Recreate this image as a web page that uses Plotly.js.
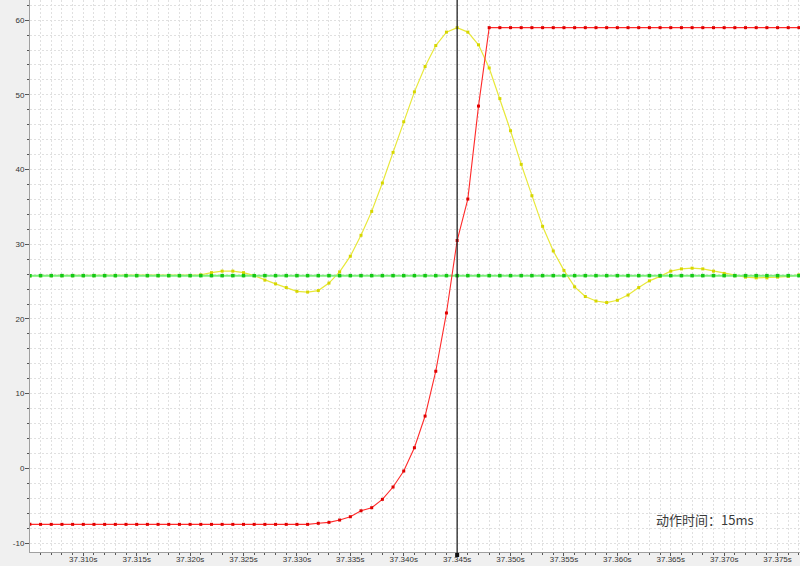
<!DOCTYPE html>
<html>
<head>
<meta charset="utf-8">
<script src="https://cdn.plot.ly/plotly-3.0.1.min.js"></script>
<style>html,body{margin:0;padding:0;background:#f0f0f0;}#chart{width:800px;height:566px;}</style>
</head>
<body>
<div id="chart"></div>
<script>
// sample times (s), 1 ms apart
const times = [37.305,37.306,37.307,37.308,37.309,37.310,37.311,37.312,37.313,37.314,
  37.315,37.316,37.317,37.318,37.319,37.320,37.321,37.322,37.323,37.324,
  37.325,37.326,37.327,37.328,37.329,37.330,37.331,37.332,37.333,37.334,
  37.335,37.336,37.337,37.338,37.339,37.340,37.341,37.342,37.343,37.344,
  37.345,37.346,37.347,37.348,37.349,37.350,37.351,37.352,37.353,37.354,
  37.355,37.356,37.357,37.358,37.359,37.360,37.361,37.362,37.363,37.364,
  37.365,37.366,37.367,37.368,37.369,37.370,37.371,37.372,37.373,37.374,
  37.375,37.376,37.377];

const redValues = [-7.5,-7.5,-7.5,-7.5,-7.5,-7.5,-7.5,-7.5,-7.5,-7.5,
  -7.5,-7.5,-7.5,-7.5,-7.5,-7.5,-7.5,-7.5,-7.5,-7.5,
  -7.5,-7.5,-7.5,-7.5,-7.5,-7.5,-7.5,-7.36,-7.23,-6.92,
  -6.48,-5.68,-5.27,-4.15,-2.5,-0.36,2.76,7.0,13.0,20.8,
  30.5,36.05,48.5,59.0,59.0,59.0,59.0,59.0,59.0,59.0,
  59.0,59.0,59.0,59.0,59.0,59.0,59.0,59.0,59.0,59.0,
  59.0,59.0,59.0,59.0,59.0,59.0,59.0,59.0,59.0,59.0,
  59.0,59.0,59.0];

const yellowValues = [25.8,25.8,25.8,25.8,25.8,25.8,25.8,25.8,25.8,25.8,
  25.8,25.8,25.8,25.8,25.8,25.8,25.9,26.2,26.4,26.4,
  26.2,25.8,25.2,24.7,24.2,23.7,23.6,23.8,24.8,26.3,
  28.4,31.2,34.4,38.2,42.3,46.4,50.4,53.8,56.6,58.4,
  59.0,58.4,56.7,53.6,49.5,45.2,40.7,36.5,32.4,29.1,
  26.5,24.3,23.0,22.4,22.2,22.5,23.2,24.2,25.1,25.7,
  26.4,26.7,26.8,26.7,26.4,26.1,25.8,25.6,25.5,25.5,
  25.6,25.7,25.9];

const greenValues = [25.8,25.8,25.8,25.8,25.8,25.8,25.8,25.8,25.8,25.8,
  25.8,25.8,25.8,25.8,25.8,25.8,25.8,25.8,25.8,25.8,
  25.8,25.8,25.8,25.8,25.8,25.8,25.8,25.8,25.8,25.8,
  25.8,25.8,25.8,25.8,25.8,25.8,25.8,25.8,25.8,25.8,
  25.8,25.8,25.8,25.8,25.8,25.8,25.8,25.8,25.8,25.8,
  25.8,25.8,25.8,25.8,25.8,25.8,25.8,25.8,25.8,25.8,
  25.8,25.8,25.8,25.8,25.8,25.8,25.8,25.8,25.8,25.8,
  25.8,25.8,25.8];

const xTickVals = [37.310,37.315,37.320,37.325,37.330,37.335,37.340,37.345,37.350,37.355,37.360,37.365,37.370,37.375];
const xTickText = ["37.310s","37.315s","37.320s","37.325s","37.330s","37.335s","37.340s","37.345s","37.350s","37.355s","37.360s","37.365s","37.370s","37.375s"];
const yTickVals = [-10,0,10,20,30,40,50,60];
const yTickText = ["-10","0","10","20","30","40","50","60"];
const cursorTime = 37.345;
const annotationText = "动作时间：15ms";

const traces = [
  {x: times, y: yellowValues, type: 'scatter', mode: 'lines+markers',
   line: {color: '#e8e83a', width: 1.2},
   marker: {symbol: 'square', size: 3, color: '#d6d600'}, hoverinfo: 'skip'},
  {x: times, y: greenValues, type: 'scatter', mode: 'lines+markers',
   line: {color: '#7cf07c', width: 2},
   marker: {symbol: 'square', size: 3.5, color: '#14c814'}, hoverinfo: 'skip'},
  {x: times, y: redValues, type: 'scatter', mode: 'lines+markers',
   line: {color: '#ff2a2a', width: 1.1},
   marker: {symbol: 'square', size: 3, color: '#e00000'}, hoverinfo: 'skip'}
];

const gridStyle = {showgrid: true, gridcolor: '#e0e0e0', griddash: '2px,2px', gridwidth: 1};

const layout = {
  width: 800, height: 566,
  margin: {l: 30, r: 0, t: 0, b: 14, pad: 0},
  paper_bgcolor: '#f0f0f0',
  plot_bgcolor: '#ffffff',
  showlegend: false,
  font: {family: 'Liberation Sans, Arial, sans-serif', size: 8, color: '#333333'},
  xaxis: Object.assign({
    range: [37.30501, 37.3771],
    tickmode: 'array', tickvals: xTickVals, ticktext: xTickText,
    ticks: 'outside', ticklen: 3, tickcolor: '#555', tickwidth: 1,
    ticklabelstandoff: -4,
    showline: true, linecolor: '#a0a0a0', linewidth: 1,
    zeroline: false,
    tickfont: {family: 'Liberation Sans, Arial, sans-serif', size: 8, color: '#333'},
    minor: {dtick: 0.001, tick0: 37.300, showgrid: true, gridcolor: '#e0e0e0', griddash: '2px,2px',
            ticks: 'outside', ticklen: 2, tickcolor: '#555'}
  }, gridStyle),
  yaxis: Object.assign({
    range: [-11.2, 62.7],
    tickmode: 'array', tickvals: yTickVals, ticktext: yTickText,
    ticks: 'outside', ticklen: 4, tickcolor: '#555', tickwidth: 1,
    ticklabelstandoff: -1,
    showline: true, linecolor: '#a0a0a0', linewidth: 1,
    zeroline: false,
    tickfont: {family: 'Liberation Sans, Arial, sans-serif', size: 8, color: '#333'},
    minor: {dtick: 2, tick0: 0, showgrid: true, gridcolor: '#e0e0e0', griddash: '2px,2px',
            ticks: 'outside', ticklen: 2, tickcolor: '#555'}
  }, gridStyle),
  shapes: [
    {type: 'line', xref: 'x', yref: 'paper', x0: cursorTime, x1: cursorTime, y0: -0.008, y1: 1,
     line: {color: '#222222', width: 1.3}, layer: 'above'},
    {type: 'rect', xref: 'x', yref: 'paper', xsizemode: 'pixel', ysizemode: 'pixel',
     xanchor: cursorTime, yanchor: 0, x0: -2, x1: 2, y0: -5, y1: -1,
     fillcolor: '#111111', line: {width: 0}, layer: 'above'}
  ],
  annotations: [
    {xref: 'paper', yref: 'paper', x: 0.877, y: 0.058, xanchor: 'center', yanchor: 'middle',
     text: annotationText, showarrow: false,
     font: {family: 'Noto Sans CJK SC, sans-serif', size: 13, color: '#3a3a3a'}}
  ]
};

Plotly.newPlot('chart', traces, layout, {displayModeBar: false, staticPlot: true});
</script>
</body>
</html>
